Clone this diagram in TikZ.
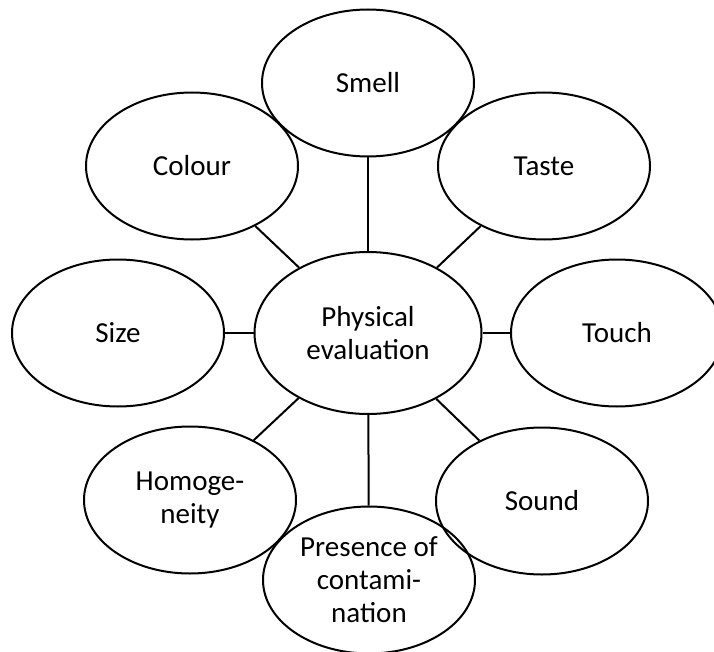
\documentclass[tikz,border=0pt]{standalone}
\usepackage{fontspec}
\setmainfont{Carlito}
\usepackage{tikz}
\usetikzlibrary{shapes.geometric}

\begin{document}
\begin{tikzpicture}[x=1pt,y=-1pt,line width=2pt,
    sense/.style={ellipse,draw,inner sep=0pt,align=center,
      minimum width=212pt,minimum height=147pt,
      font=\fontsize{29}{33}\selectfont},
    hub/.style={sense,minimum width=227pt,minimum height=162pt}]
        \useasboundingbox (0,0) rectangle (714,652);
        \clip (0,0) rectangle (714,652);
        % centre of the star
        \node[hub] (eval) at (368,333) {Physical\\evaluation};
        % the senses around it
        \node[sense] (smell) at (368,83) {Smell};
        \node[sense] (colour) at (192,166) {Colour};
        \node[sense] (taste) at (544,166) {Taste};
        \node[sense] (size) at (118,333) {Size};
        \node[sense] (touch) at (617,333) {Touch};
        \node[sense] (homog) at (190,500) {Homoge-\\neity};
        \node[sense] (sound) at (542,501) {Sound};
        \node[sense] (contam) at (369,580) {Presence of\\contami-\\nation};
        % spokes
        \foreach \n in {smell,colour,taste,size,touch,homog,sound,contam}
          \draw (eval) -- (\n);
      \end{tikzpicture}
\end{document}
